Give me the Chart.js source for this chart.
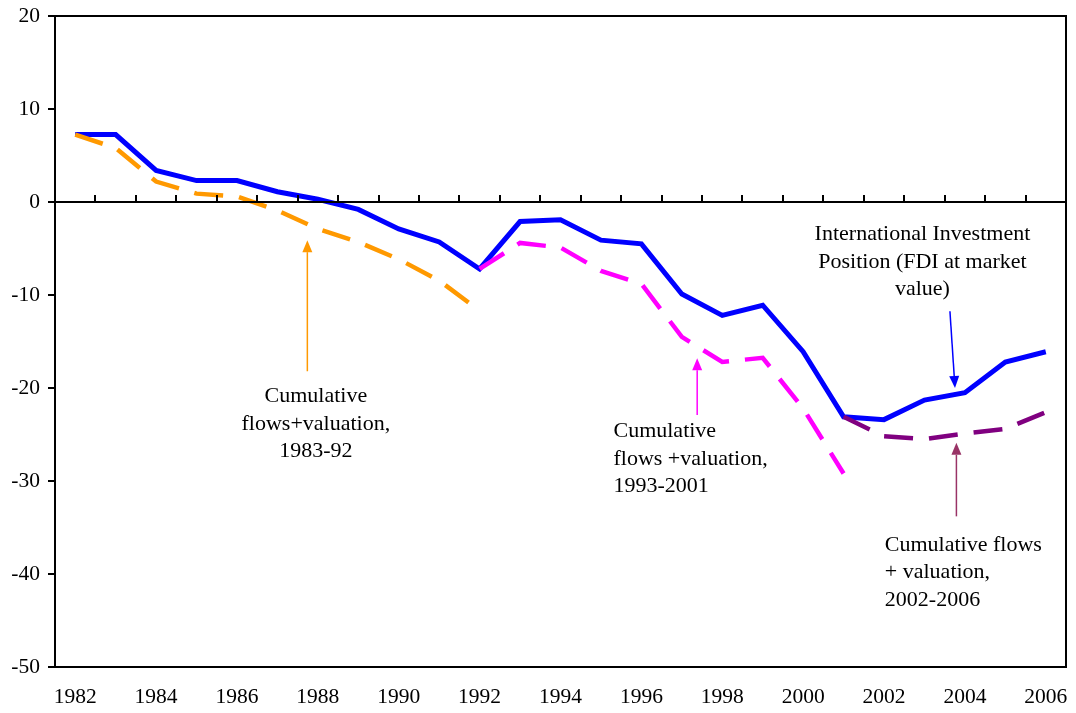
<!DOCTYPE html>
<html>
<head>
<meta charset="utf-8">
<script src="https://cdn.jsdelivr.net/npm/chart.js@4"></script>
<style>
  body { margin: 0; background: #fff; }
  #wrap { width: 1076px; height: 713px; }
</style>
</head>
<body>
<div id="wrap"><canvas id="chart"></canvas></div>
<script>
// Years on the category axis
const years = ['1982', '1983', '1984', '1985', '1986', '1987', '1988', '1989', '1990', '1991',
               '1992', '1993', '1994', '1995', '1996', '1997', '1998', '1999', '2000', '2001',
               '2002', '2003', '2004', '2005', '2006'];

// International Investment Position (FDI at market value)
const iipValues = [7.25, 7.25, 3.4, 2.3, 2.3, 1.1, 0.3, -0.8, -2.9, -4.3,
                   -7.2, -2.1, -1.9, -4.1, -4.5, -9.9, -12.2, -11.1, -16.1, -23.1,
                   -23.4, -21.3, -20.5, -17.2, -16.1];

// Cumulative flows + valuation, by period
const flows8392 = [7.25, 5.8, 2.2, 0.9, 0.6, -0.9, -2.9, -4.3, -6.15, -8.45,
                   -11.7, null, null, null, null, null, null, null, null, null,
                   null, null, null, null, null];
const flows9301 = [null, null, null, null, null, null, null, null, null, null,
                   -7.2, -4.4, -4.9, -7.4, -8.8, -14.5, -17.2, -16.75, -22.2, -29.2,
                   null, null, null, null, null];
const flows0206 = [null, null, null, null, null, null, null, null, null, null,
                   null, null, null, null, null, null, null, null, null, -23.1,
                   -25.2, -25.5, -24.9, -24.4, -22.6];

// Y axis range
const yMin = -50;
const yMax = 20;
const yStep = 10;

// Text notes with arrows (positions in axis units: category index, value)
const notes = [
    { lines: ['Cumulative', 'flows+valuation,', '1983-92'], x: 5.95, y: -20.9, align: 'center',
      color: '#FF9900', arrowX: 5.74, arrowFrom: -18.2, arrowTo: -4.1, arrowToX: 5.74 },
    { lines: ['Cumulative', 'flows +valuation,', '1993-2001'], x: 13.31, y: -24.7, align: 'left',
      color: '#FF00FF', arrowX: 15.38, arrowFrom: -22.9, arrowTo: -16.8, arrowToX: 15.38 },
    { lines: ['International Investment', 'Position (FDI at market', 'value)'], x: 20.95, y: -3.5, align: 'center',
      color: '#0000FF', arrowX: 21.63, arrowFrom: -11.75, arrowTo: -20.0, arrowToX: 21.755 },
    { lines: ['Cumulative flows', '+ valuation,', '2002-2006'], x: 20.02, y: -36.9, align: 'left',
      color: '#993366', arrowX: 21.79, arrowFrom: -33.8, arrowTo: -25.9, arrowToX: 21.79 }
];

const fontFamily = '"Liberation Serif", "Times New Roman", serif';

// Draws the frame, the zero line with its ticks, and the notes
const decorPlugin = {
    id: 'decor',
    afterDatasetsDraw(chart) {
        const ctx = chart.ctx;
        const area = chart.chartArea;
        const xs = chart.scales.x;
        const ys = chart.scales.y;
        ctx.save();

        // Frame around plot
        ctx.strokeStyle = '#000';
        ctx.lineWidth = 2;
        ctx.strokeRect(area.left, area.top, area.right - area.left, area.bottom - area.top);

        // Zero line with tick marks at category boundaries
        const y0 = Math.round(ys.getPixelForValue(0));
        ctx.beginPath();
        ctx.moveTo(area.left, y0);
        ctx.lineTo(area.right, y0);
        const catW = (area.right - area.left) / years.length;
        for (let i = 1; i < years.length; i++) {
            const tx = Math.round(area.left + i * catW);
            ctx.moveTo(tx, y0);
            ctx.lineTo(tx, y0 - 7);
        }
        ctx.stroke();

        // Notes
        ctx.font = '22px ' + fontFamily;
        ctx.textBaseline = 'middle';
        notes.forEach(note => {
            ctx.fillStyle = '#000';
            ctx.textAlign = note.align;
            const tx = xs.getPixelForValue(note.x);
            const ty = ys.getPixelForValue(note.y);
            note.lines.forEach((line, i) => {
                ctx.fillText(line, tx, ty + i * 27.5);
            });

            // Arrow
            const ax1 = xs.getPixelForValue(note.arrowX);
            const ay1 = ys.getPixelForValue(note.arrowFrom);
            const ax2 = xs.getPixelForValue(note.arrowToX);
            const ay2 = ys.getPixelForValue(note.arrowTo);
            const ang = Math.atan2(ay2 - ay1, ax2 - ax1);
            const headLen = 12;
            const headW = 5;
            const bx = ax2 - headLen * Math.cos(ang);
            const by = ay2 - headLen * Math.sin(ang);
            ctx.strokeStyle = note.color;
            ctx.fillStyle = note.color;
            ctx.lineWidth = 1.5;
            ctx.beginPath();
            ctx.moveTo(ax1, ay1);
            ctx.lineTo(bx, by);
            ctx.stroke();
            ctx.beginPath();
            ctx.moveTo(ax2, ay2);
            ctx.lineTo(bx - headW * Math.sin(ang), by + headW * Math.cos(ang));
            ctx.lineTo(bx + headW * Math.sin(ang), by - headW * Math.cos(ang));
            ctx.closePath();
            ctx.fill();
        });

        ctx.restore();
    }
};

function main() {
    const canvas = document.querySelector('#chart');

    new Chart(canvas.getContext('2d'), {
        type: 'line',
        data: {
            labels: years,
            datasets: [
                {
                    label: 'International Investment Position',
                    data: iipValues,
                    borderColor: '#0000FF',
                    borderWidth: 5,
                    order: 4
                },
                {
                    label: 'Cumulative flows+valuation, 1983-92',
                    data: flows8392,
                    borderColor: '#FF9900',
                    borderWidth: 4.5,
                    borderDash: [29, 16],
                    order: 1
                },
                {
                    label: 'Cumulative flows +valuation, 1993-2001',
                    data: flows9301,
                    borderColor: '#FF00FF',
                    borderWidth: 4.5,
                    borderDash: [29, 16],
                    order: 2
                },
                {
                    label: 'Cumulative flows + valuation, 2002-2006',
                    data: flows0206,
                    borderColor: '#800080',
                    borderWidth: 4.5,
                    borderDash: [29, 16],
                    order: 3
                }
            ]
        },
        options: {
            responsive: true,
            maintainAspectRatio: false,
            animation: false,
            spanGaps: false,
            elements: {
                point: { radius: 0, hoverRadius: 0 },
                line: { tension: 0, fill: false }
            },
            layout: { padding: { top: 16, right: 10, left: 0, bottom: 0 } },
            plugins: {
                legend: { display: false },
                tooltip: { enabled: false }
            },
            scales: {
                x: {
                    type: 'category',
                    offset: true,
                    grid: { display: false, drawTicks: false },
                    border: { display: true, color: '#000', width: 2 },
                    ticks: {
                        autoSkip: false,
                        maxRotation: 0,
                        padding: 17,
                        color: '#000',
                        font: { family: fontFamily, size: 21.5 },
                        callback: function (value, index) {
                            return index % 2 === 0 ? years[index] : '';
                        }
                    },
                    afterFit: scale => {
                        scale.height = 46;
                        scale.paddingLeft = 0;
                        scale.paddingRight = 0;
                    }
                },
                y: {
                    min: yMin,
                    max: yMax,
                    grid: { drawOnChartArea: false, tickLength: 7, color: '#000', lineWidth: 2 },
                    border: { display: true, color: '#000', width: 2 },
                    ticks: {
                        stepSize: yStep,
                        padding: 8,
                        color: '#000',
                        font: { family: fontFamily, size: 21.5 }
                    },
                    afterFit: scale => {
                        scale.width = 55;
                        scale.paddingTop = 0;
                        scale.paddingBottom = 0;
                    }
                }
            }
        },
        plugins: [decorPlugin]
    });
}

main();
</script>
</body>
</html>
